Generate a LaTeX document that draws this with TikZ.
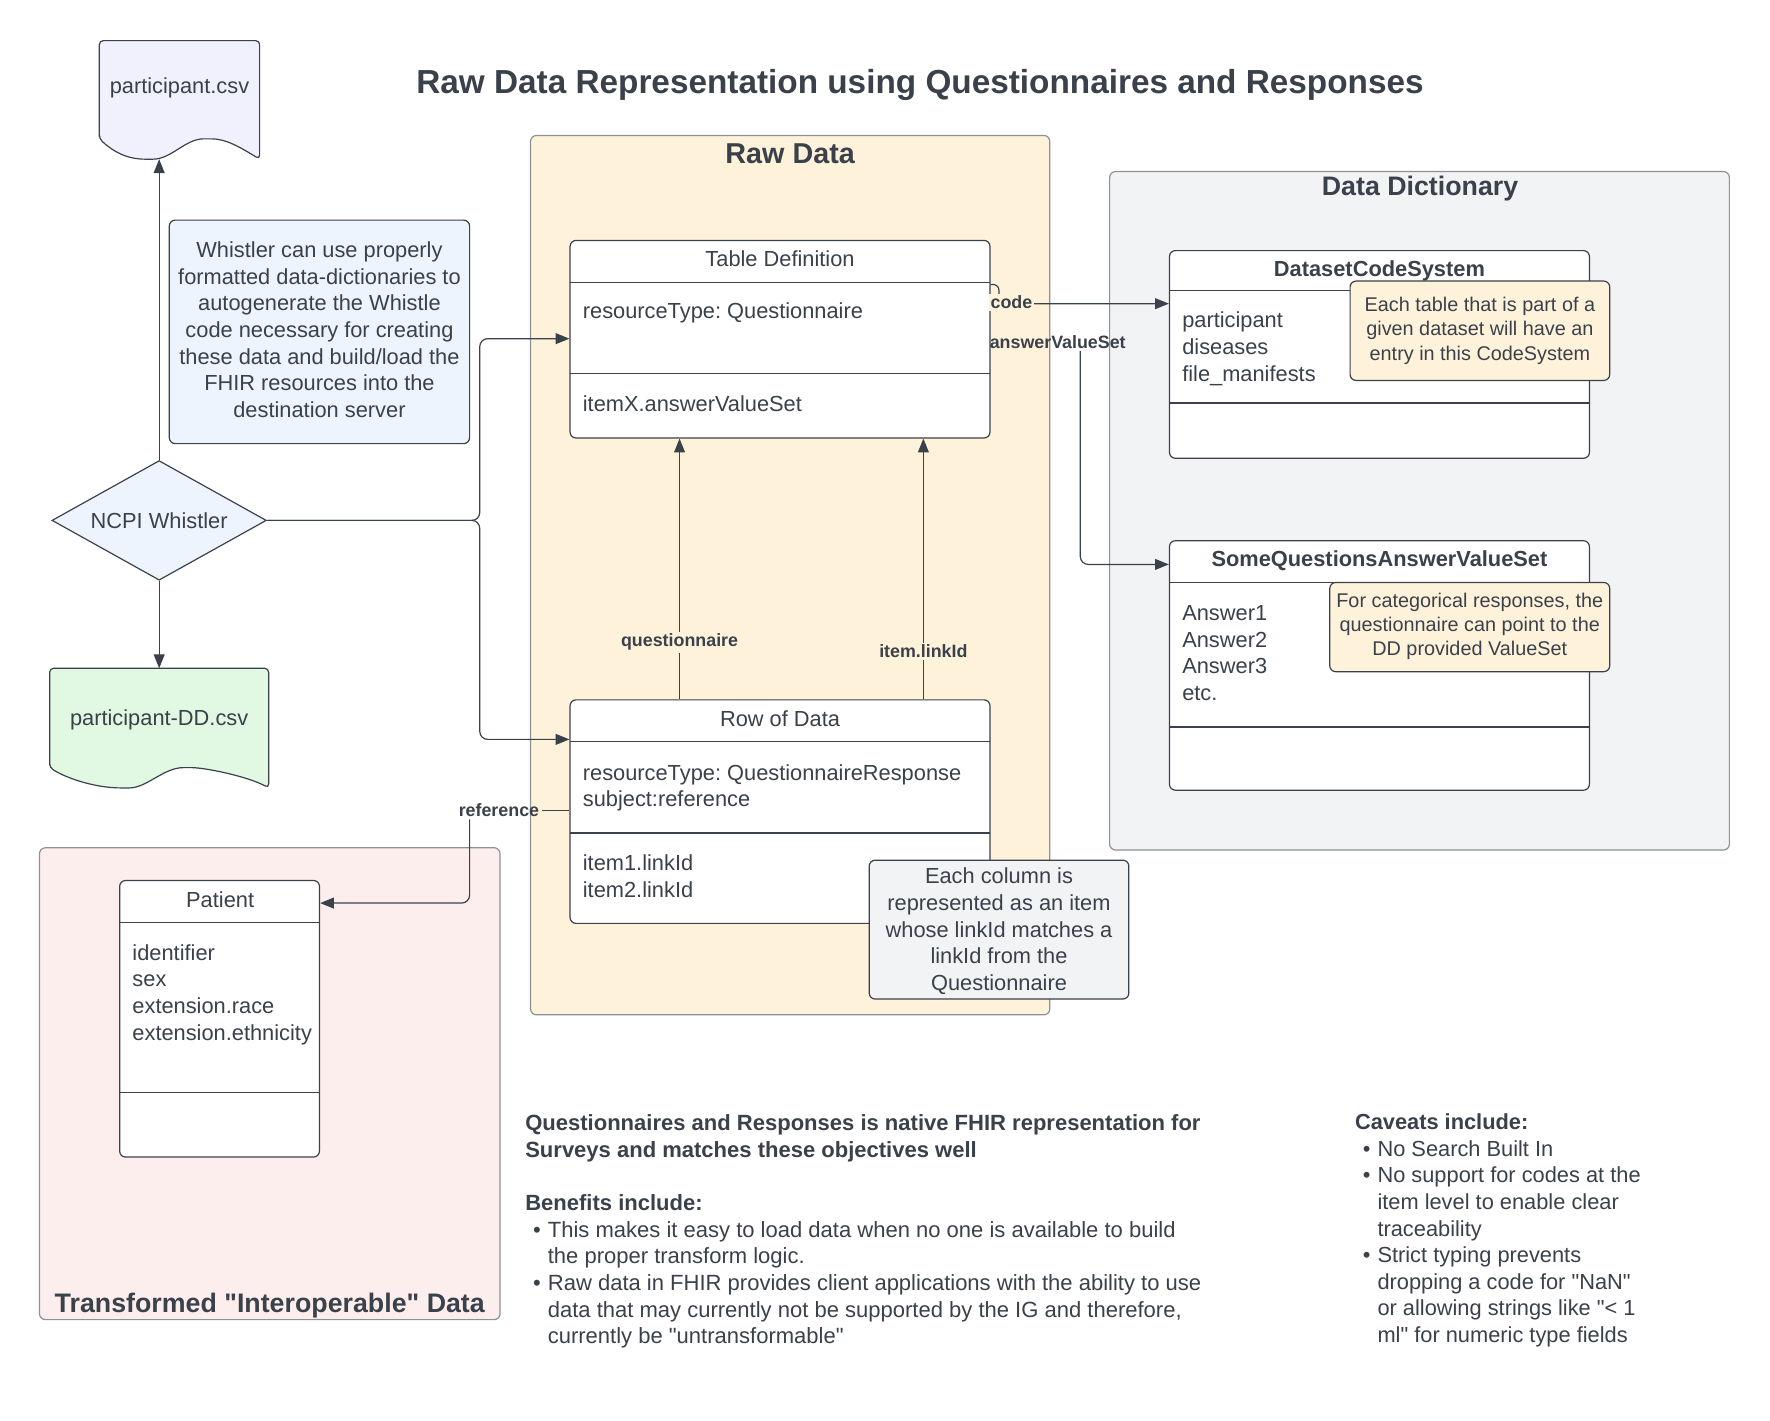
\documentclass[tikz,border=0pt]{standalone}
\usepackage{fontspec}
\setmainfont{Liberation Sans}[Ligatures=TeXOff]
\usetikzlibrary{shapes.geometric,arrows.meta,fit,positioning}
\definecolor{inkgray}{HTML}{3A414A}
\definecolor{framegray}{HTML}{8C9198}
\definecolor{rawcream}{HTML}{FFF2DA}
\definecolor{dictgray}{HTML}{F2F3F5}
\definecolor{interpink}{HTML}{FDEEEE}
\definecolor{whistlerblue}{HTML}{EDF4FE}
\definecolor{csvlilac}{HTML}{F1F0FD}
\definecolor{ddgreen}{HTML}{E1F8E2}

\begin{document}
\frenchspacing
\begin{tikzpicture}[x=0.02cm, y=-0.02cm, font=\fontsize{11}{13.4}\selectfont, text=inkgray,
  group/.style={draw=framegray, line width=0.6pt, rounded corners=3pt, inner sep=0pt},
  classbox/.style={draw=inkgray, fill=white, line width=0.6pt, rounded corners=3pt, inner sep=0pt},
  notebox/.style={draw=inkgray, line width=0.6pt, rounded corners=3pt, inner sep=0pt},
  notetxt/.style={align=center, inner sep=0pt},
  fieldtxt/.style={anchor=west, align=left, inner sep=0pt},
  docshape/.style={draw=inkgray, line width=0.6pt, rounded corners=2pt},
  grouptitle/.style={font=\fontsize{13.5}{16}\selectfont\bfseries},
  headtxt/.style={font=\fontsize{11}{13.4}\selectfont\bfseries},
  conn/.style={draw=inkgray, line width=0.6pt},
  arr/.style={conn, -{Triangle[length=7pt, width=5.5pt]}},
  lbl/.style={font=\fontsize{9}{11}\selectfont\bfseries, inner sep=1pt}]

\path[use as bounding box, fill=white] (0,0) rectangle (1568,1258);

% Groups
\node[group, fill=rawcream, fit={(470,120) (930,899)}] (rawgroup) {};
\node[group, fill=dictgray, fit={(983,152) (1532,753)}] (dictgroup) {};
\node[group, fill=interpink, fit={(35,751) (443,1169)}] (intergroup) {};
\node[grouptitle, font=\fontsize{14.5}{17}\selectfont\bfseries] (rawtitle) at (700,136) {Raw Data};
\node[grouptitle] (dicttitle) at (1258,167) {Data Dictionary};
\node[grouptitle] (intertitle) at (239,1157) {Transformed "Interoperable" Data};

\node[font=\fontsize{16.8}{20}\selectfont\bfseries] (maintitle) at (815,75)
  {Raw Data Representation using Questionnaires and Responses};

% Source files
\filldraw[docshape, fill=csvlilac] (88,123) -- (88,36) -- (230,36) -- (230,141)
  .. controls (212,130) and (200,123) .. (184,123)
  .. controls (164,123) and (152,141) .. (132,141)
  .. controls (112,141) and (100,134) .. (88,123) -- cycle;
\node (csvtxt) at (159,78) {participant.csv};
\coordinate (csvfoot) at (141,141);

\filldraw[docshape, fill=ddgreen] (44,680) -- (44,592) -- (238,592) -- (238,698)
  .. controls (220,688) and (182,680) .. (166,680)
  .. controls (145,680) and (130,698) .. (111,698)
  .. controls (85,698) and (60,690) .. (44,680) -- cycle;
\node (ddtxt) at (141,638) {participant-DD.csv};
\coordinate (ddtop) at (141,592);

\node[diamond, draw=inkgray, fill=whistlerblue, line width=0.6pt, aspect=1.8,
  minimum width=3.8cm, minimum height=2.12cm, inner sep=0pt] (whistler) at (141,461) {NCPI Whistler};

% Raw data tables
\node[classbox, fit={(505,213) (877,388)}] (tabdef) {};
\draw[conn] (505,250) -- (877,250) (505,331) -- (877,331);
\node (tabdefhead) at (691,229) {Table Definition};
\node[fieldtxt] (tabdeftype) at (516,277) {resourceType: Questionnaire};
\node[fieldtxt] (tabdefitem) at (516,358) {itemX.answerValueSet};

\node[classbox, fit={(505,620) (877,818)}] (rowdata) {};
\draw[conn] (505,657) -- (877,657) (505,738) -- (877,738);
\node (rowdatahead) at (691,637) {Row of Data};
\node[fieldtxt] (rowdatatype) at (516,698) {resourceType: QuestionnaireResponse\\subject:reference};
\node[fieldtxt] (rowdataitems) at (516,776) {item1.linkId\\item2.linkId};

% Interoperable table
\node[classbox, fit={(106,780) (283,1025)}] (patient) {};
\draw[conn] (106,817) -- (283,817) (106,968) -- (283,968);
\node (patienthead) at (195,797) {Patient};
\node[fieldtxt] (patientfields) at (117,881) {identifier\\sex\\extension.race\\extension.ethnicity};

% Data dictionary tables
\node[classbox, fit={(1036,222) (1408,406)}] (dcs) {};
\draw[conn] (1036,257) -- (1408,257) (1036,357) -- (1408,357);
\node[headtxt] (dcshead) at (1222,240) {DatasetCodeSystem};
\node[fieldtxt] (dcscodes) at (1047,309) {participant\\diseases\\file\_manifests};

\node[classbox, fit={(1036,479) (1408,700)}] (sqv) {};
\draw[conn] (1036,516) -- (1408,516) (1036,644) -- (1408,644);
\node[headtxt] (sqvhead) at (1222,497) {SomeQuestionsAnswerValueSet};
\node[fieldtxt] (sqvanswers) at (1047,578.5) {Answer1\\Answer2\\Answer3\\etc.};

% Connectors
\draw[arr] (whistler.north) -- (csvfoot);
\draw[arr] (whistler.south) -- (ddtop);
\draw[arr, rounded corners=4pt] (whistler.east) -- (425,461) |- (tabdef.west |- 0,300);
\draw[arr, rounded corners=4pt] (whistler.east) -- (425,461) |- (rowdata.west |- 0,655);

\draw[arr] (rowdata.north -| 602,0) -- (tabdef.south -| 602,0);
\node[lbl, fill=rawcream] (qlbl) at (602,569) {questionnaire};
\draw[arr] (rowdata.north -| 818,0) -- (tabdef.south -| 818,0);
\node[lbl, fill=rawcream] (linklbl) at (818,577) {item.linkId};

\draw[arr, rounded corners=3pt] (tabdef.east |- 0,252) -- (885,252) -- (885,269) -- (dcs.west |- 0,269);
\node[lbl, fill=rawcream] (codelbl) at (896,268) {code};

\node[lbl] (avslbl) at (937,303) {answerValueSet};
\draw[arr, rounded corners=4pt] (avslbl.south -| 957,0) |- (sqv.west |- 0,500);

\node[lbl] (reflbl) at (442,718) {reference};
\draw[conn] (rowdata.west |- reflbl) -- (reflbl.east);
\draw[arr, rounded corners=4pt] (reflbl.south -| 416,0) |- (patient.east |- 0,800);

% Notes
\node[notebox, fill=whistlerblue, fit={(150,195) (416,393)}] (whistlernote) {};
\node[notetxt] (whistlertxt) at (283,292)
  {Whistler can use properly\\formatted data-dictionaries to\\autogenerate the Whistle\\code necessary for creating\\these data and build/load the\\FHIR resources into the\\destination server};
\node[notebox, fill=rawcream, fit={(1196,249) (1426,337)}] (dcsnote) {};
\node[notetxt, font=\fontsize{10}{12.2}\selectfont] (dcsnotetxt) at (1311,293)
  {Each table that is part of a\\given dataset will have an\\entry in this CodeSystem};
\node[notebox, fill=rawcream, fit={(1178,516) (1426,595)}] (sqvnote) {};
\node[notetxt, font=\fontsize{10}{12.2}\selectfont] (sqvnotetxt) at (1302,555)
  {For categorical responses, the\\questionnaire can point to the\\DD provided ValueSet};
\node[notebox, fill=dictgray, fit={(770,762) (1000,885)}] (itemnote) {};
\node[notetxt] (itemnotetxt) at (885,825)
  {Each column is\\represented as an item\\whose linkId matches a\\linkId from the\\Questionnaire};

% Summary text
\node[fieldtxt, font=\fontsize{11.1}{13.45}\selectfont] (benefits) at (465,1091)
  {\bfseries Questionnaires and Responses is native FHIR representation for\\
   \bfseries Surveys and matches these objectives well\\[13.45pt]
   \bfseries Benefits include:\\
   \hspace*{4pt}\textbullet\hspace{3.5pt}This makes it easy to load data when no one is available to build\\
   \hspace*{11.35pt}the proper transform logic.\\
   \hspace*{4pt}\textbullet\hspace{3.5pt}Raw data in FHIR provides client applications with the ability to use\\
   \hspace*{11.35pt}data that may currently not be supported by the IG and therefore,\\
   \hspace*{11.35pt}currently be "untransformable"};
\node[fieldtxt] (caveats) at (1200,1090)
  {\bfseries Caveats include:\\
   \hspace*{4pt}\textbullet\hspace{3.5pt}No Search Built In\\
   \hspace*{4pt}\textbullet\hspace{3.5pt}No support for codes at the\\
   \hspace*{11.35pt}item level to enable clear\\
   \hspace*{11.35pt}traceability\\
   \hspace*{4pt}\textbullet\hspace{3.5pt}Strict typing prevents\\
   \hspace*{11.35pt}dropping a code for "NaN"\\
   \hspace*{11.35pt}or allowing strings like "< 1\\
   \hspace*{11.35pt}ml" for numeric type fields};
\end{tikzpicture}
\end{document}
